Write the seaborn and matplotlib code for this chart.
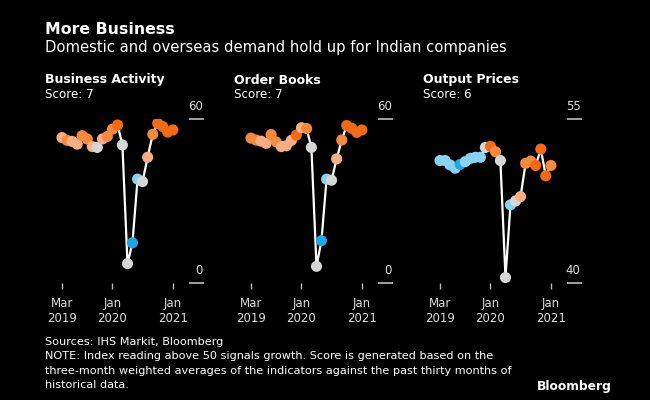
import matplotlib
matplotlib.use("Agg")
import matplotlib.pyplot as plt
import matplotlib.transforms as mtransforms
import seaborn as sns
import pandas as pd

# ---------------- data ----------------
months = pd.date_range("2019-03-01", periods=23, freq="MS")

business_activity = [53.2, 52.2, 51.8, 50.8, 53.9, 52.7, 49.9, 49.6, 52.7, 53.6, 56.3, 57.8,
                     50.5, 7.1, 14.7, 38.0, 37.1, 46.0, 54.4, 58.4, 57.2, 55.2, 56.0]
business_colors = ['o1', 'o2', 'o1', 'o1', 'o2', 'o2', 'o1', 'n', 'o1', 'o2', 'o2', 'o3',
                   'n', 'n', 'b2', 'b1', 'n', 'o1', 'o2', 'o3', 'o3', 'o3', 'o3']

order_books = [53.0, 52.3, 51.9, 51.1, 54.3, 51.6, 49.9, 50.2, 52.2, 54.1, 56.8, 56.5,
               49.6, 6.1, 15.5, 38.0, 37.6, 45.4, 52.3, 57.6, 56.6, 55.1, 56.0]
order_colors = ['o2', 'o2', 'o1', 'o1', 'o2', 'o2', 'o1', 'o1', 'o1', 'o3', 'o1', 'o2',
                'n', 'n', 'b2', 'b1', 'n', 'o1', 'o2', 'o3', 'o3', 'o3', 'o3']

output_prices = [51.2, 51.2, 50.8, 50.5, 50.85, 51.1, 51.4, 51.5, 51.5, 52.4, 52.5, 52.0,
                 51.2, 40.5, 47.15, 47.5, 47.9, 50.95, 51.15, 50.75, 52.25, 49.8, 50.75]
output_colors = ['b1', 'b1', 'b1', 'b1', 'b2', 'b1', 'b1', 'b1', 'b1', 'n', 'o3', 'o2',
                 'n', 'n', 'b1', 'n', 'o1', 'o2', 'o2', 'o3', 'o3', 'o3', 'o2']

panel_titles = ["Business Activity", "Order Books", "Output Prices"]
scores = ["Score: 7", "Score: 7", "Score: 6"]
y_ranges = [(0, 60), (0, 60), (40, 55)]
tick_dates = ["2019-03-01", "2020-01-01", "2021-01-01"]
tick_labels = ["Mar\n2019", "Jan\n2020", "Jan\n2021"]

palette = {'o3': '#f26a16', 'o2': '#f5893f', 'o1': '#f8ae84', 'n': '#d6d6d6',
           'b1': '#88d2f4', 'b2': '#21a5e6'}

# ---------------- style ----------------
sns.set_theme(style="dark")
plt.rcParams['font.family'] = ['DejaVu Sans']
plt.rcParams['figure.facecolor'] = 'black'
plt.rcParams['axes.facecolor'] = 'black'

W, H = 650, 400
fig = plt.figure(figsize=(6.5, 4.0), dpi=100)
fig.patch.set_facecolor('black')

def fx(px):
    return px / W

def fy(py):
    return 1 - py / H

fig.text(fx(45), fy(34.5), "More Business", color='white', fontsize=11.3,
         fontweight='bold', va='baseline', ha='left')
fig.text(fx(45), fy(52), "Domestic and overseas demand hold up for Indian companies",
         color='white', fontsize=10.6, va='baseline', ha='left')

series = [business_activity, order_books, output_prices]
colors = [business_colors, order_colors, output_colors]
offsets = [0, 189, 378]

# x range in days: Mar 2019 at px 62, 0.165 px/day; axes spans px 45..204
x0 = pd.Timestamp("2019-03-01") - pd.Timedelta(days=17 / 0.165)
x1 = pd.Timestamp("2019-03-01") + pd.Timedelta(days=(204 - 62) / 0.165)

for i in range(3):
    off = offsets[i]
    ax = fig.add_axes([fx(45 + off), fy(283), fx(204 - 45), (283 - 119) / H])
    ax.set_facecolor('black')
    df = pd.DataFrame({"date": months, "value": series[i], "cat": colors[i]})
    sns.lineplot(data=df, x="date", y="value", color='white', linewidth=1.6, ax=ax,
                 zorder=2)
    sns.scatterplot(data=df, x="date", y="value", hue="cat", palette=palette, s=64,
                    linewidth=0, edgecolor='none', legend=False, ax=ax, zorder=3)
    ymin, ymax = y_ranges[i]
    ax.set_ylim(ymin, ymax)
    ax.set_xlim(x0, x1)
    for s in ax.spines.values():
        s.set_visible(False)
    ax.grid(False)
    ax.set_xlabel("")
    ax.set_ylabel("")
    ax.set_xticks([pd.Timestamp(d) for d in tick_dates])
    ax.set_xticklabels(tick_labels)
    ax.tick_params(axis='x', colors='#bbbbbb', direction='out', length=4, width=1,
                   labelsize=8.5, labelcolor='#dddddd', pad=6, bottom=True)
    ax.yaxis.tick_right()
    ax.set_yticks([ymin, ymax])
    ax.set_yticklabels(["", ""])
    ax.tick_params(axis='y', colors='#cccccc', direction='in', length=11, width=1.1,
                   right=True, left=False)
    trans = mtransforms.offset_copy(ax.get_yaxis_transform(), fig=fig, x=-1, y=4.5,
                                    units='points')
    for v in (ymin, ymax):
        ax.text(1.0, v, f"{v}", transform=trans, ha='right', va='bottom',
                color='#dddddd', fontsize=8.5)
    fig.text(fx(45 + off), fy(83.5), panel_titles[i], color='white', fontsize=9,
             fontweight='bold', va='baseline', ha='left')
    fig.text(fx(45 + off), fy(98.5), scores[i], color='white', fontsize=8.6,
             va='baseline', ha='left')

notes = ["Sources: IHS Markit, Bloomberg",
         "NOTE: Index reading above 50 signals growth. Score is generated based on the",
         "three-month weighted averages of the indicators against the past thirty months of",
         "historical data."]
for k, line in enumerate(notes):
    fig.text(fx(45), fy(345 + 14.3 * k), line, color='white', fontsize=8.1,
             va='baseline', ha='left')

fig.text(fx(612), fy(390), "Bloomberg", color='white', fontsize=8.8,
         fontweight='bold', va='baseline', ha='right')

fig.savefig("out.png", dpi=100, facecolor='black')
